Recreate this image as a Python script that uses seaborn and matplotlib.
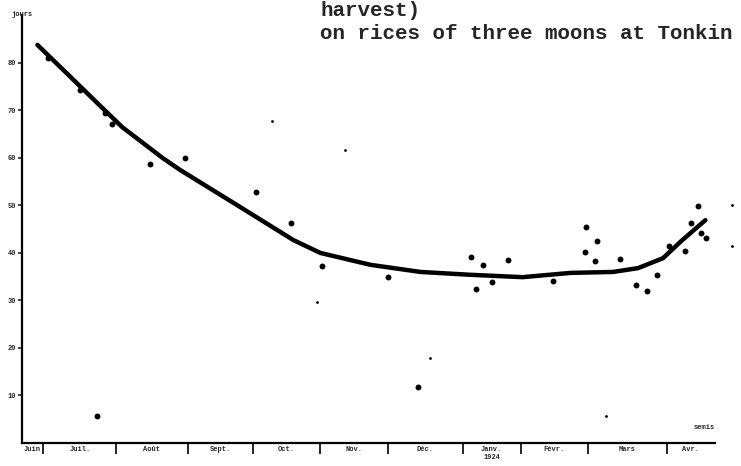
import numpy as np
import pandas as pd
import matplotlib.pyplot as plt
import seaborn as sns

# smoothed curve (sowing day -> value)
curve_x = [8, 23, 40, 52, 73, 82, 110, 141, 155, 181, 207, 233, 260, 285, 307, 320, 333, 343, 355]
curve_y = [83.8, 77.9, 71.2, 66.5, 60.0, 57.5, 50.5, 42.7, 40.0, 37.5, 36.0, 35.4, 34.9, 35.8, 36.0, 36.8, 38.9, 42.7, 46.9]

# observed points
dot_x = [13.5, 30.1, 43.1, 46.8, 66.5, 84.7, 121.6, 139.7, 155.8, 39.0, 190.1, 205.7,
         233.2, 239.5, 235.8, 244.2, 252.5, 275.8, 293.0, 298.7, 292.5, 297.7, 310.6,
         319.0, 324.7, 329.9, 336.1, 344.4, 347.5, 351.2, 352.7, 355.3]
dot_y = [81.1, 74.3, 69.5, 67.2, 58.7, 60.0, 52.8, 46.3, 37.3, 5.7, 34.9, 11.8,
         39.2, 37.5, 32.4, 33.9, 38.5, 34.1, 45.5, 42.5, 40.2, 38.3, 38.7,
         33.3, 32.0, 35.4, 41.5, 40.4, 46.3, 49.9, 44.2, 43.2]

# faint specks
speck_x = [153.2, 129.9, 167.8, 303.4, 368.8, 368.8, 212.0]
speck_y = [29.7, 67.8, 61.7, 5.7, 50.1, 41.5, 17.8]

# month separators on the x axis and labels
month_edges = [11, 49, 86, 120, 155, 190, 229, 259, 294, 335]
month_labels = ["Juin", "Juil.", "Août", "Sept.", "Oct.", "Nov.", "Déc.",
                "Janv.\n1924", "Févr.", "Mars", "Avr."]
y_ticks = [10, 20, 30, 40, 50, 60, 70, 80]

sns.set_style("white")
plt.rcParams["font.family"] = ["Liberation Mono", "DejaVu Sans Mono"]

fig = plt.figure(figsize=(7.41, 4.66), dpi=100)
ax = fig.add_axes([0.0297, 0.0494, 0.9703, 0.9186])

sns.lineplot(x=curve_x, y=curve_y, ax=ax, color="black", lw=3.2, estimator=None, sort=True)
sns.scatterplot(x=dot_x, y=dot_y, ax=ax, color="black", s=18, linewidth=0)
sns.scatterplot(x=speck_x, y=speck_y, ax=ax, color="black", s=4, linewidth=0)

ax.set_xlim(0, 373.5)
ax.set_ylim(0, 90.1)

for s in ["top", "right"]:
    ax.spines[s].set_visible(False)
ax.spines["left"].set_linewidth(1.6)
ax.spines["bottom"].set_linewidth(1.6)
ax.spines["left"].set_color("black")
ax.spines["bottom"].set_color("black")
ax.spines["bottom"].set_bounds(0, 360)

# y ticks
ax.set_yticks(y_ticks)
ax.set_yticklabels([str(v) for v in y_ticks], fontsize=5, fontweight="bold")
ax.tick_params(axis="y", direction="out", length=3, width=1.2, pad=1, left=True)

# x: separators as major ticks, month names centred as minor ticks
edges = [0] + month_edges + [360]
centres = [(a + b) / 2 for a, b in zip(edges[:-1], edges[1:])]
ax.set_xticks(month_edges)
ax.set_xticklabels([])
ax.tick_params(axis="x", which="major", direction="out", length=8, width=1.4, bottom=True)
ax.set_xticks(centres, minor=True)
ax.set_xticklabels(month_labels, minor=True, fontsize=5, fontweight="bold")
ax.tick_params(axis="x", which="minor", length=0, pad=2)

ax.set_xlabel("")
ax.set_ylabel("")

# axis captions
ax.text(0, 90.1, "jours", fontsize=5, fontweight="bold", ha="center", va="center")
ax.text(360, 2.5, "semis", fontsize=5, fontweight="bold", ha="right", va="bottom")

# typewritten title
fig.text(0.432, 0.978, "harvest)", fontsize=15, fontweight="bold", ha="left", va="center")
fig.text(0.432, 0.929, "on rices of three moons at Tonkin", fontsize=15,
         fontweight="bold", ha="left", va="center")

fig.savefig("out.png", dpi=100)
